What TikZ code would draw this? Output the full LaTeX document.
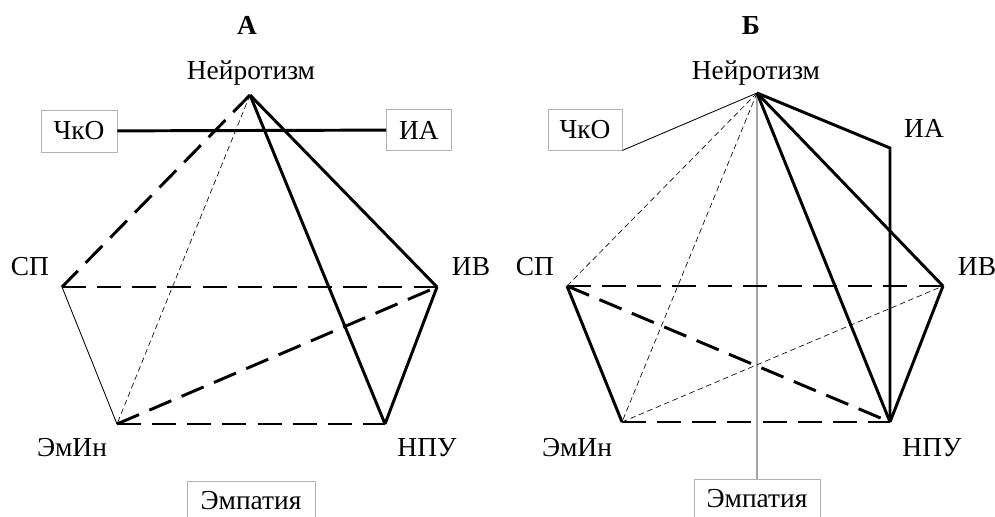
\documentclass[tikz,border=0pt]{standalone}
\usepackage{fontspec}
\setmainfont{Liberation Serif}
\begin{document}
\begin{tikzpicture}[x=0.025cm,y=-0.025cm,
    every node/.style={font=\fontsize{19.5}{23}\selectfont},
    lbl/.style={anchor=base},
    ttl/.style={anchor=base,font=\bfseries\fontsize{19.5}{23}\selectfont},
    box/.style={draw=gray!60,line width=0.6pt,inner sep=0pt},
    thickline/.style={line width=2.1pt},
    thickdash/.style={line width=2.1pt,dash pattern=on 17pt off 8pt},
    thindash/.style={line width=0.45pt,dash pattern=on 4pt off 2.5pt},
    thinline/.style={line width=0.6pt},
    grayline/.style={line width=0.8pt,draw=gray!70}]
  \useasboundingbox (0,0) rectangle (995,517);
  % panel A
  \draw
    (250,95) coordinate (aN)
    (62,287) coordinate (aSP)
    (437,287) coordinate (aIV)
    (117,424) coordinate (aEm)
    (385,424) coordinate (aNPU);
  \draw
    (247,35) node[ttl] (aT){А}
    (251,80) node[lbl] (aNl){Нейротизм}
    (30,276) node[lbl] (aSPl){СП}
    (471,276) node[lbl] (aIVl){ИВ}
    (72,457) node[lbl] (aEml){ЭмИн}
    (427,457) node[lbl] (aNPUl){НПУ}
    (79,131) node[box,minimum width=1.9cm,minimum height=1.05cm] (aCk){ЧкО}
    (419,130) node[box,minimum width=1.625cm,minimum height=1.025cm] (aIA){ИА}
    (251,501) node[box,minimum width=3.2cm,minimum height=0.975cm] (aEmp){Эмпатия};
  \begin{scope}[thinline]
    \draw (aSP) to (aEm);
  \end{scope}
  \begin{scope}[thindash]
    \draw (aN) to (aEm);
  \end{scope}
  \begin{scope}[thickdash]
    \draw (aN) to (aSP);
    \draw (aSP) to (aIV);
    \draw (aEm) to (aIV);
    \draw (aEm) to (aNPU);
  \end{scope}
  \begin{scope}[thickline]
    \draw (aN) to (aNPU);
    \draw (aN) to (aIV);
    \draw (aNPU) to (aIV);
    \draw (aCk) to (aIA);
  \end{scope}
  % panel B
  \draw
    (757,93) coordinate (bN)
    (567,286) coordinate (bSP)
    (943,286) coordinate (bIV)
    (622,422) coordinate (bEm)
    (890,422) coordinate (bNPU)
    (890,148) coordinate (bIAc);
  \draw
    (751,35) node[ttl] (bT){Б}
    (756,80) node[lbl] (bNl){Нейротизм}
    (535,276) node[lbl] (bSPl){СП}
    (977,276) node[lbl] (bIVl){ИВ}
    (577,457) node[lbl] (bEml){ЭмИн}
    (932,457) node[lbl] (bNPUl){НПУ}
    (924,138) node[lbl] (bIA){ИА}
    (585,129.5) node[box,minimum width=1.85cm,minimum height=1.025cm] (bCk){ЧкО}
    (757,499) node[box,minimum width=3.15cm,minimum height=0.975cm] (bEmp){Эмпатия};
  \begin{scope}[grayline]
    \draw (bN) to (bEmp.north);
  \end{scope}
  \begin{scope}[thinline]
    \draw (bN) to (bCk.south east);
  \end{scope}
  \begin{scope}[thindash]
    \draw (bN) to (bSP);
    \draw (bN) to (bEm);
    \draw (bEm) to (bIV);
  \end{scope}
  \begin{scope}[thickdash]
    \draw (bSP) to (bIV);
    \draw (bSP) to (bNPU);
    \draw (bEm) to (bNPU);
  \end{scope}
  \begin{scope}[thickline]
    \draw (bN) to (bNPU);
    \draw (bN) to (bIV);
    \draw (bN) -- (bIAc) -- (bNPU);
    \draw (bIV) to (bNPU);
    \draw (bSP) to (bEm);
  \end{scope}
\end{tikzpicture}
\end{document}
